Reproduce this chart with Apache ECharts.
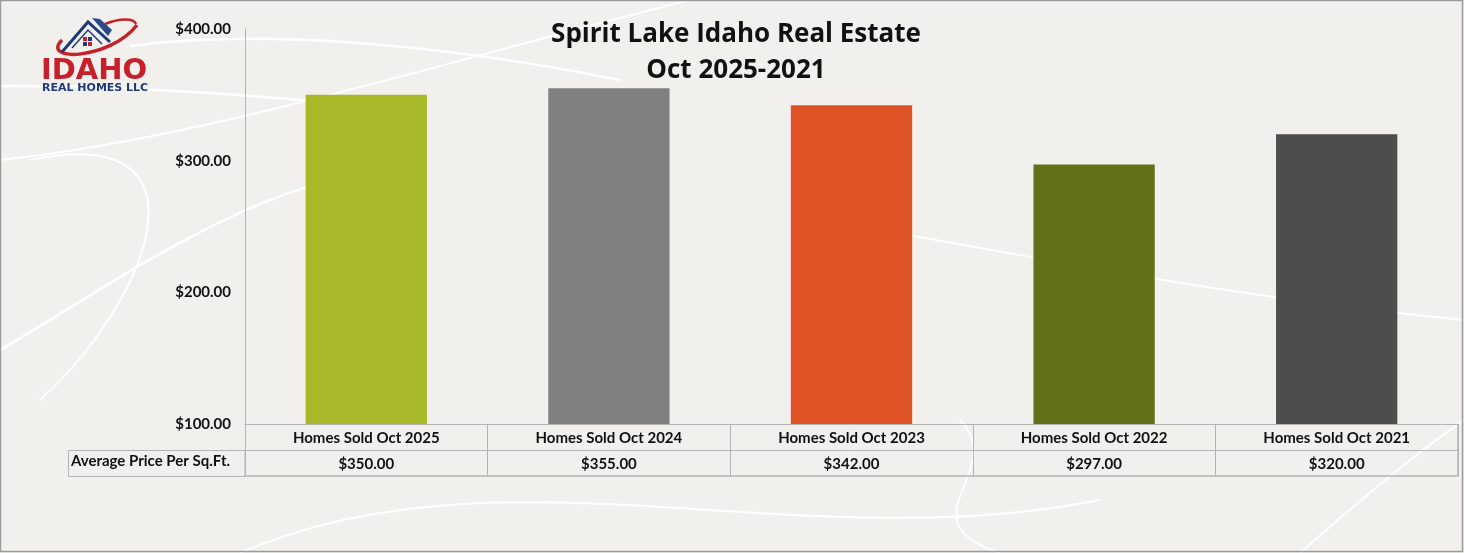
<!DOCTYPE html>
<html>
<head>
<meta charset="utf-8">
<script src="https://cdn.jsdelivr.net/npm/echarts@6/dist/echarts.min.js"></script>
<style>
html,body{margin:0;padding:0;background:#f1f0ec;}
#c{width:1464px;height:553px;}
</style>
</head>
<body>
<div id="c"></div>
<script>
var categories = ['Homes Sold Oct 2025','Homes Sold Oct 2024','Homes Sold Oct 2023','Homes Sold Oct 2022','Homes Sold Oct 2021'];
var avgPricePerSqFt = [350, 355, 342, 297, 320];
var barColors = ['#a8b828','#808080','#e05326','#647018','#4d4d4d'];
var yTicks = [100, 200, 300, 400];
var rowLabel = 'Average Price Per Sq.Ft.';
var titleLines = ['Spirit Lake Idaho Real Estate','Oct 2025-2021'];

function money(v){ return '$' + Number(v).toFixed(2); }

var chart = echarts.init(document.getElementById('c'));
var FONT = 'Lato, "Open Sans", sans-serif';
var lineCol = '#b4b4b4';

var option = {
  backgroundColor: '#f1f0ec',
  animation: false,
  title: {
    text: titleLines.join('\n'),
    left: 731, top: 12, textAlign: 'center',
    textStyle: { fontFamily: '"Open Sans", sans-serif', fontWeight: 'bold', fontSize: 26, lineHeight: 36, color: '#111' }
  },
  grid: { left: 245, right: 6, top: 29, bottom: 129, containLabel: false },
  xAxis: [
    { type: 'category', data: categories, position: 'bottom',
      axisLine: { show: true, lineStyle: { color: lineCol, width: 1 } },
      axisTick: { show: true, length: 52, interval: 0, lineStyle: { color: lineCol } },
      axisLabel: { interval: 0, margin: 7, fontFamily: FONT, fontWeight: 'bold', fontSize: 15, color: '#111' } },
    { type: 'category', data: avgPricePerSqFt.map(money), position: 'bottom', offset: 26,
      axisLine: { show: true, lineStyle: { color: lineCol, width: 1 } },
      axisTick: { show: false },
      axisLabel: { interval: 0, margin: 7, fontFamily: FONT, fontWeight: 'bold', fontSize: 15, color: '#111' } },
    { type: 'category', data: categories, position: 'bottom', offset: 52,
      axisLine: { show: true, lineStyle: { color: lineCol, width: 1.5 } },
      axisTick: { show: false }, axisLabel: { show: false } }
  ],
  yAxis: {
    type: 'value', min: 100, max: 400, interval: 100,
    axisLine: { show: true, lineStyle: { color: lineCol } },
    axisTick: { show: false },
    splitLine: { show: false },
    axisLabel: { margin: 14, formatter: function(v){ return money(v); }, fontFamily: FONT, fontWeight: 'bold', fontSize: 15, color: '#111', verticalAlign: 'middle' }
  },
  series: [{
    type: 'bar', xAxisIndex: 0, barWidth: '50%',
    data: avgPricePerSqFt.map(function(v,i){ return { value: v, itemStyle: { color: barColors[i] } }; })
  }],
  graphic: [
    // decorative white curves
    { type: 'bezierCurve', silent: true, z: -1, shape: { x1: 130, y1: 46, x2: 620, y2: 80, cpx1: 250, cpy1: 30, cpx2: 420, cpy2: 40 }, style: { stroke: '#ffffff', lineWidth: 2.5, fill: null } },
    { type: 'bezierCurve', silent: true, z: -1, shape: { x1: 0, y1: 86, x2: 420, y2: 110, cpx1: 150, cpy1: 85, cpx2: 300, cpy2: 100 }, style: { stroke: '#ffffff', lineWidth: 2.5, fill: null } },
    { type: 'bezierCurve', silent: true, z: -1, shape: { x1: 0, y1: 160, x2: 690, y2: 0, cpx1: 200, cpy1: 140, cpx2: 450, cpy2: 60 }, style: { stroke: '#ffffff', lineWidth: 2, fill: null } },
    { type: 'bezierCurve', silent: true, z: -1, shape: { x1: 0, y1: 350, x2: 380, y2: 170, cpx1: 120, cpy1: 280, cpx2: 240, cpy2: 190 }, style: { stroke: '#ffffff', lineWidth: 2.5, fill: null } },
    { type: 'bezierCurve', silent: true, z: -1, shape: { x1: 30, y1: 160, x2: 40, y2: 400, cpx1: 220, cpy1: 120, cpx2: 150, cpy2: 300 }, style: { stroke: '#ffffff', lineWidth: 2, fill: null } },
    { type: 'bezierCurve', silent: true, z: -1, shape: { x1: 880, y1: 230, x2: 1464, y2: 320, cpx1: 1050, cpy1: 260, cpx2: 1250, cpy2: 300 }, style: { stroke: '#ffffff', lineWidth: 2, fill: null } },
    { type: 'bezierCurve', silent: true, z: -1, shape: { x1: 960, y1: 420, x2: 1000, y2: 553, cpx1: 1010, cpy1: 470, cpx2: 900, cpy2: 520 }, style: { stroke: '#ffffff', lineWidth: 2, fill: null } },
    { type: 'bezierCurve', silent: true, z: -1, shape: { x1: 240, y1: 553, x2: 1100, y2: 500, cpx1: 500, cpy1: 440, cpx2: 800, cpy2: 560 }, style: { stroke: '#ffffff', lineWidth: 2, fill: null } },
    { type: 'bezierCurve', silent: true, z: -1, shape: { x1: 1300, y1: 553, x2: 1464, y2: 420, cpx1: 1360, cpy1: 500, cpx2: 1420, cpy2: 450 }, style: { stroke: '#ffffff', lineWidth: 2, fill: null } },
    // outer frame
    { type: 'rect', silent: true, shape: { x: 0.5, y: 0.5, width: 1462, height: 551 }, style: { stroke: '#9a9a9a', lineWidth: 1.5, fill: null } },
    // table left cell
    { type: 'rect', shape: { x: 68.5, y: 450.5, width: 176.5, height: 26 }, style: { stroke: lineCol, lineWidth: 1, fill: null } },
    { type: 'text', left: 71, top: 454, style: { text: rowLabel, fontFamily: FONT, fontWeight: 'bold', fontSize: 15, fill: '#111' } },
    // table right border
    { type: 'line', shape: { x1: 1458, y1: 424, x2: 1458, y2: 476 }, style: { stroke: lineCol, lineWidth: 1.5 } },
    // logo (absolute coords)
    { type: 'bezierCurve', shape: { x1: 62, y1: 40, x2: 137, y2: 25, cpx1: 40, cpy1: 62, cpx2: 110, cpy2: 60 }, style: { stroke: '#c8202a', lineWidth: 3.5, fill: null } },
    { type: 'bezierCurve', shape: { x1: 105, y1: 24, x2: 136, y2: 24, cpx1: 120, cpy1: 18, cpx2: 134, cpy2: 18 }, style: { stroke: '#c8202a', lineWidth: 2.5, fill: null } },
    { type: 'polyline', shape: { points: [[62,52],[88,22],[110,42]] }, style: { stroke: '#1f3a7a', lineWidth: 3, fill: null } },
    { type: 'polyline', shape: { points: [[72,48],[88,30],[102,44]] }, style: { stroke: '#1f3a7a', lineWidth: 1.5, fill: null } },
    { type: 'polygon', shape: { points: [[92,18],[100,19],[112,30],[108,36]] }, style: { fill: '#2a4a8e' } },
    { type: 'rect', shape: { x: 83, y: 37, width: 4, height: 4 }, style: { fill: '#c8202a' } },
    { type: 'rect', shape: { x: 88, y: 37, width: 4, height: 4 }, style: { fill: '#1f3a7a' } },
    { type: 'rect', shape: { x: 83, y: 42, width: 4, height: 4 }, style: { fill: '#1f3a7a' } },
    { type: 'rect', shape: { x: 88, y: 42, width: 4, height: 4 }, style: { fill: '#c8202a' } },
    { type: 'text', left: 41, top: 57, style: { text: 'IDAHO', fontFamily: '"DejaVu Sans", sans-serif', fontWeight: 'bold', fontSize: 29, fill: '#c8202a' } },
    { type: 'text', left: 42, top: 83, style: { text: 'REAL HOMES LLC', fontFamily: '"DejaVu Sans", sans-serif', fontWeight: 'bold', fontSize: 11, fill: '#1f3a7a' } }
  ]
};
chart.setOption(option);
</script>
</body>
</html>
